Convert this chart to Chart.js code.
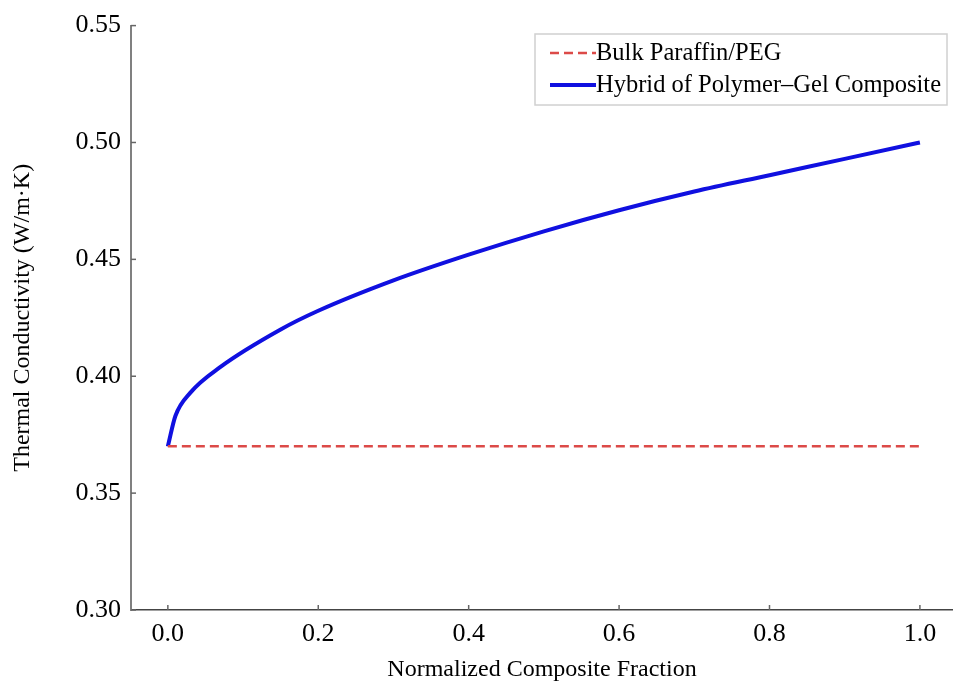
<!DOCTYPE html>
<html lang="en">
<head>
<meta charset="UTF-8">
<title>Thermal Conductivity</title>
<script src="https://cdn.jsdelivr.net/npm/chart.js"></script>
<style>
  body { margin: 0; padding: 0; background: #fff; }
  .chart-box { position: relative; width: 953px; height: 684px; }
</style>
</head>
<body>
<div class="chart-box"><canvas id="chart"></canvas></div>
<script>
  // values
  const fractionX = [0, 0.01, 0.03, 0.07, 0.15, 0.2, 0.3, 0.4, 0.5, 0.6, 0.7, 0.8, 0.9, 1.0];
  const hybridK   = [0.370, 0.383, 0.393, 0.404, 0.420, 0.428, 0.441, 0.452, 0.462, 0.471, 0.479, 0.486, 0.493, 0.500];
  const bulkX = [0, 1.0];
  const bulkK = [0.370, 0.370];
  const xTicks = [0, 0.2, 0.4, 0.6, 0.8, 1.0];
  const yTicks = [0.30, 0.35, 0.40, 0.45, 0.50, 0.55];

  const serif = 'Liberation Serif, Times New Roman, serif';

  const toPts = (xs, ys) => xs.map((x, i) => ({ x: x, y: ys[i] }));

  // ticks pointing inward
  const innerTicks = {
    id: 'innerTicks',
    afterDraw(chart) {
      const { ctx, scales: { x, y } } = chart;
      ctx.save();
      ctx.strokeStyle = '#666';
      ctx.lineWidth = 1.5;
      xTicks.forEach(v => {
        const px = x.getPixelForValue(v);
        ctx.beginPath(); ctx.moveTo(px, y.bottom); ctx.lineTo(px, y.bottom - 5); ctx.stroke();
      });
      yTicks.forEach(v => {
        const py = y.getPixelForValue(v);
        ctx.beginPath(); ctx.moveTo(x.left, py); ctx.lineTo(x.left + 5, py); ctx.stroke();
      });
      ctx.restore();
    }
  };

  // legend box inside the plot, top right
  const boxLegend = {
    id: 'boxLegend',
    afterDraw(chart) {
      const ctx = chart.ctx;
      const ds = chart.data.datasets;
      const bx = 535, by = 34, bw = 412, bh = 71;
      const rows = [53, 85];
      ctx.save();
      ctx.fillStyle = '#fff';
      ctx.fillRect(bx, by, bw, bh);
      ctx.strokeStyle = '#d0d0d0';
      ctx.lineWidth = 1.5;
      ctx.strokeRect(bx, by, bw, bh);
      ds.forEach((d, i) => {
        const yy = rows[i];
        ctx.beginPath();
        ctx.strokeStyle = d.borderColor;
        ctx.lineWidth = d.borderWidth;
        ctx.setLineDash(d.borderDash || []);
        ctx.moveTo(550, yy); ctx.lineTo(596, yy);
        ctx.stroke();
        ctx.setLineDash([]);
        ctx.fillStyle = '#000';
        ctx.font = '24.5px ' + serif;
        ctx.textBaseline = 'middle';
        ctx.fillText(d.label, 596, yy + 1);
      });
      ctx.restore();
    }
  };

  new Chart(document.getElementById('chart'), {
    type: 'scatter',
    data: {
      datasets: [
        {
          label: 'Bulk Paraffin/PEG',
          data: toPts(bulkX, bulkK),
          showLine: true,
          borderColor: '#dc4a48',
          borderWidth: 2.5,
          borderDash: [9, 5],
          pointRadius: 0
        },
        {
          label: 'Hybrid of Polymer\u2013Gel Composite',
          data: toPts(fractionX, hybridK),
          showLine: true,
          borderColor: '#1010e0',
          borderWidth: 4,
          cubicInterpolationMode: 'monotone',
          pointRadius: 0
        }
      ]
    },
    options: {
      responsive: true,
      maintainAspectRatio: false,
      animation: false,
      layout: { padding: { top: 24, right: 0, left: 0, bottom: 0 } },
      plugins: { legend: { display: false }, tooltip: { enabled: false } },
      scales: {
        x: {
          type: 'linear',
          min: -0.049,
          max: 1.044,
          afterBuildTicks: s => { s.ticks = xTicks.map(v => ({ value: v })); },
          afterFit: s => { s.height = 74; },
          grid: { display: false, drawTicks: false },
          border: { color: '#444', width: 1.5 },
          ticks: {
            padding: 9,
            color: '#000',
            font: { family: serif, size: 26 },
            callback: v => v.toFixed(1)
          },
          title: {
            display: true,
            text: 'Normalized Composite Fraction',
            color: '#000',
            font: { family: serif, size: 24 },
            padding: { top: 0, bottom: 0 }
          }
        },
        y: {
          min: 0.30,
          max: 0.55,
          afterBuildTicks: s => { s.ticks = yTicks.map(v => ({ value: v })); },
          afterFit: s => { s.width = 131; },
          grid: { display: false, drawTicks: false },
          border: { color: '#808080', width: 2 },
          ticks: {
            padding: 10,
            color: '#000',
            font: { family: serif, size: 26 },
            callback: v => v.toFixed(2)
          },
          title: {
            display: true,
            text: 'Thermal Conductivity (W/m\u00b7K)',
            color: '#000',
            font: { family: serif, size: 24 },
            padding: { top: 8, bottom: 0 }
          }
        }
      }
    },
    plugins: [innerTicks, boxLegend]
  });
</script>
</body>
</html>
